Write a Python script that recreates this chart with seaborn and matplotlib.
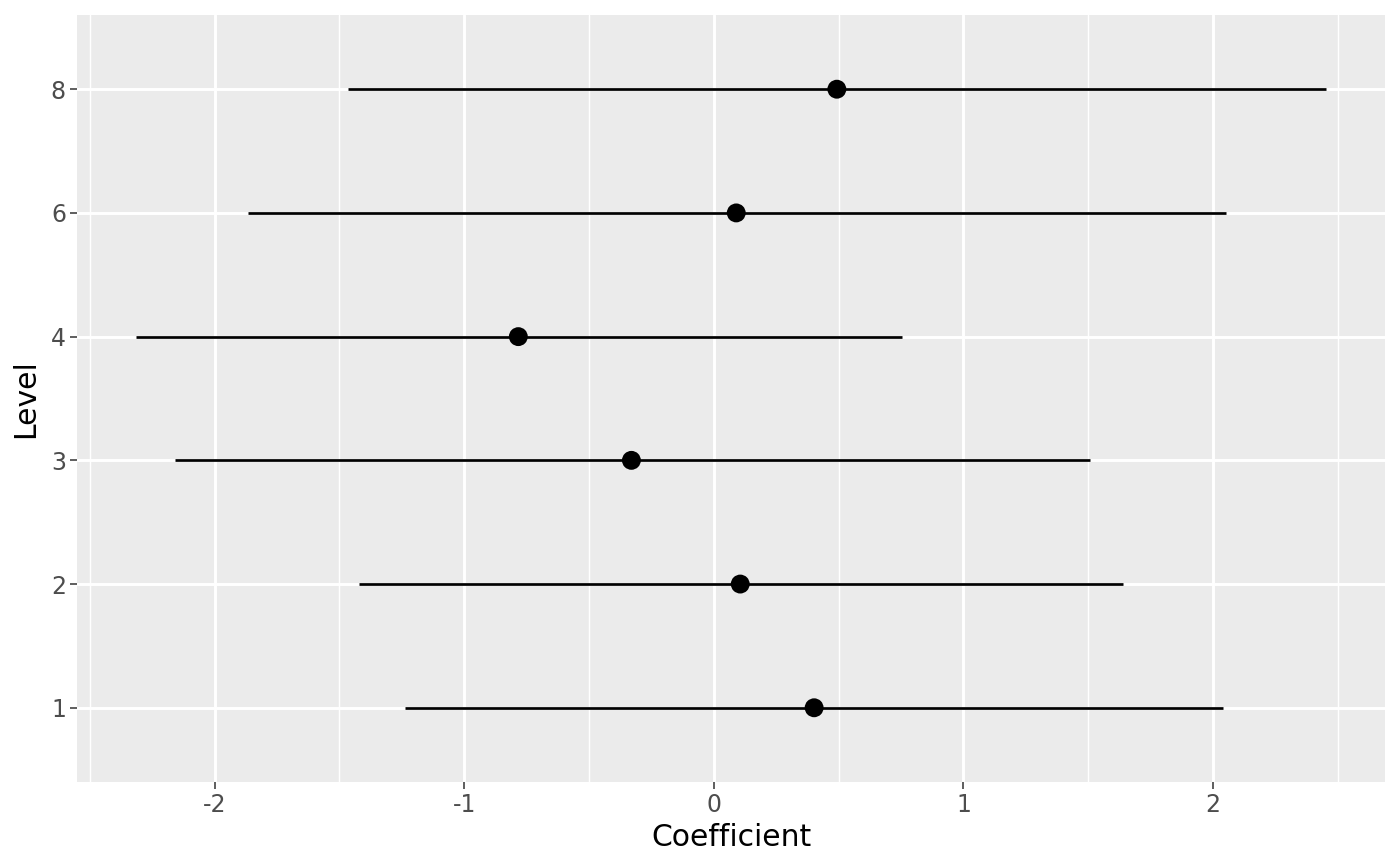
import numpy as np
import pandas as pd
import matplotlib
matplotlib.use("Agg")
import matplotlib.pyplot as plt
import seaborn as sns

# Data
levels = ["1", "2", "3", "4", "6", "8"]
coef = [0.402, 0.106, -0.330, -0.783, 0.090, 0.493]
lower = [-1.239, -1.423, -2.160, -2.313, -1.867, -1.467]
upper = [2.040, 1.639, 1.507, 0.752, 2.050, 2.451]

df = pd.DataFrame({"Level": levels, "Coefficient": coef, "lower": lower, "upper": upper})
df["pos"] = np.arange(len(df))

sns.set_theme(style="darkgrid", rc={
    "axes.facecolor": "#EBEBEB",
    "grid.color": "white",
    "axes.edgecolor": "none",
})
plt.rcParams["font.family"] = ["DejaVu Sans"]

fig = plt.figure(figsize=(14, 8.66), dpi=100)
ax = fig.add_axes([0.055, 0.097, 0.9343, 0.8857])

# confidence intervals
ax.hlines(df["pos"], df["lower"], df["upper"], color="black", linewidth=1.95, zorder=3)
sns.scatterplot(data=df, x="Coefficient", y="pos", color="black", s=185,
                edgecolor="none", zorder=4, ax=ax, legend=False)

ax.set_ylim(-0.6, len(df) - 0.4)
ax.set_xlim(-2.551, 2.689)
ax.set_yticks(df["pos"])
ax.set_yticklabels(df["Level"])
ax.set_xticks([-2, -1, 0, 1, 2])
ax.set_xticklabels(["-2", "-1", "0", "1", "2"])
ax.set_xticks([-2.5, -1.5, -0.5, 0.5, 1.5, 2.5], minor=True)

ax.grid(which="major", color="white", linewidth=2.1)
ax.grid(which="minor", axis="x", color="white", linewidth=1.05)
ax.grid(which="minor", axis="y", visible=False)
ax.set_axisbelow(True)

ax.tick_params(axis="both", which="major", length=5, width=1.1, color="#333333",
               labelcolor="#4D4D4D", labelsize=17, pad=3,
               bottom=True, left=True)
ax.tick_params(axis="both", which="minor", length=0)

ax.set_xlabel("Coefficient", fontsize=21.5, color="black", labelpad=4)
ax.set_ylabel("Level", fontsize=21.5, color="black", labelpad=8)

for s in ax.spines.values():
    s.set_visible(False)

fig.savefig("out.png", dpi=100)
